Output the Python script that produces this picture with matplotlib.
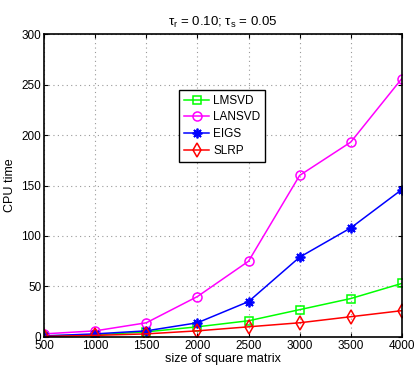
import numpy as np
import matplotlib.pyplot as plt

plt.rcParams['font.family'] = ['Liberation Sans', 'DejaVu Sans']
plt.rcParams['mathtext.fontset'] = 'custom'
plt.rcParams['mathtext.rm'] = 'Liberation Sans'
plt.rcParams['mathtext.it'] = 'Liberation Sans'

# matrix sizes and CPU times
sizes = [500, 1000, 1500, 2000, 2500, 3000, 3500, 4000]
lmsvd = [1, 2, 5, 10, 16, 27, 38, 53]
lansvd = [3, 6, 14, 40, 75, 160, 193, 256]
eigs = [1, 3, 6, 14, 35, 79, 108, 146]
slrp = [0.5, 1.5, 3, 6, 10, 14, 20, 26]

fig = plt.figure(figsize=(4.16, 3.67), dpi=100)
ax = fig.add_axes([0.106, 0.082, 0.86, 0.825])

ax.plot(sizes, lmsvd, color='#00ff00', marker='s', mfc='none', ms=5.5, mew=1.1, lw=1.1, label='LMSVD')
ax.plot(sizes, lansvd, color='#ff00ff', marker='o', mfc='none', ms=6.5, mew=1.1, lw=1.1, label='LANSVD')
ax.plot(sizes, eigs, color='#0000ff', marker=(8, 2, 0), ms=7, mew=1.3, lw=1.1, label='EIGS')
ax.plot(sizes, slrp, color='#ff0000', marker='d', mfc='none', ms=7.5, mew=1.1, lw=1.1, label='SLRP')

ax.set_xlim(500, 4000)
ax.set_ylim(0, 300)
ax.set_xticks(sizes)
ax.set_yticks(np.arange(0, 301, 50))
ax.tick_params(direction='in', labelsize=8.5, length=3, top=True, right=True, pad=2)
ax.grid(True, linestyle=(0, (1, 3)), color='#999999', lw=0.8)
for s in ax.spines.values():
    s.set_linewidth(1.2)

ax.set_xlabel('size of square matrix', fontsize=9, labelpad=1)
ax.set_ylabel('CPU time', fontsize=9, labelpad=4)
ax.set_title(r'$\tau_r$ = 0.10; $\tau_s$ = 0.05', fontsize=9.5, pad=6)

leg = ax.legend(loc='upper left', bbox_to_anchor=(0.36, 0.835), fontsize=8.5,
                fancybox=False, framealpha=1, edgecolor='black',
                handlelength=2.2, borderpad=0.4, labelspacing=0.4, handletextpad=0.3)
leg.get_frame().set_linewidth(1.0)

fig.savefig('out.png', dpi=100)
